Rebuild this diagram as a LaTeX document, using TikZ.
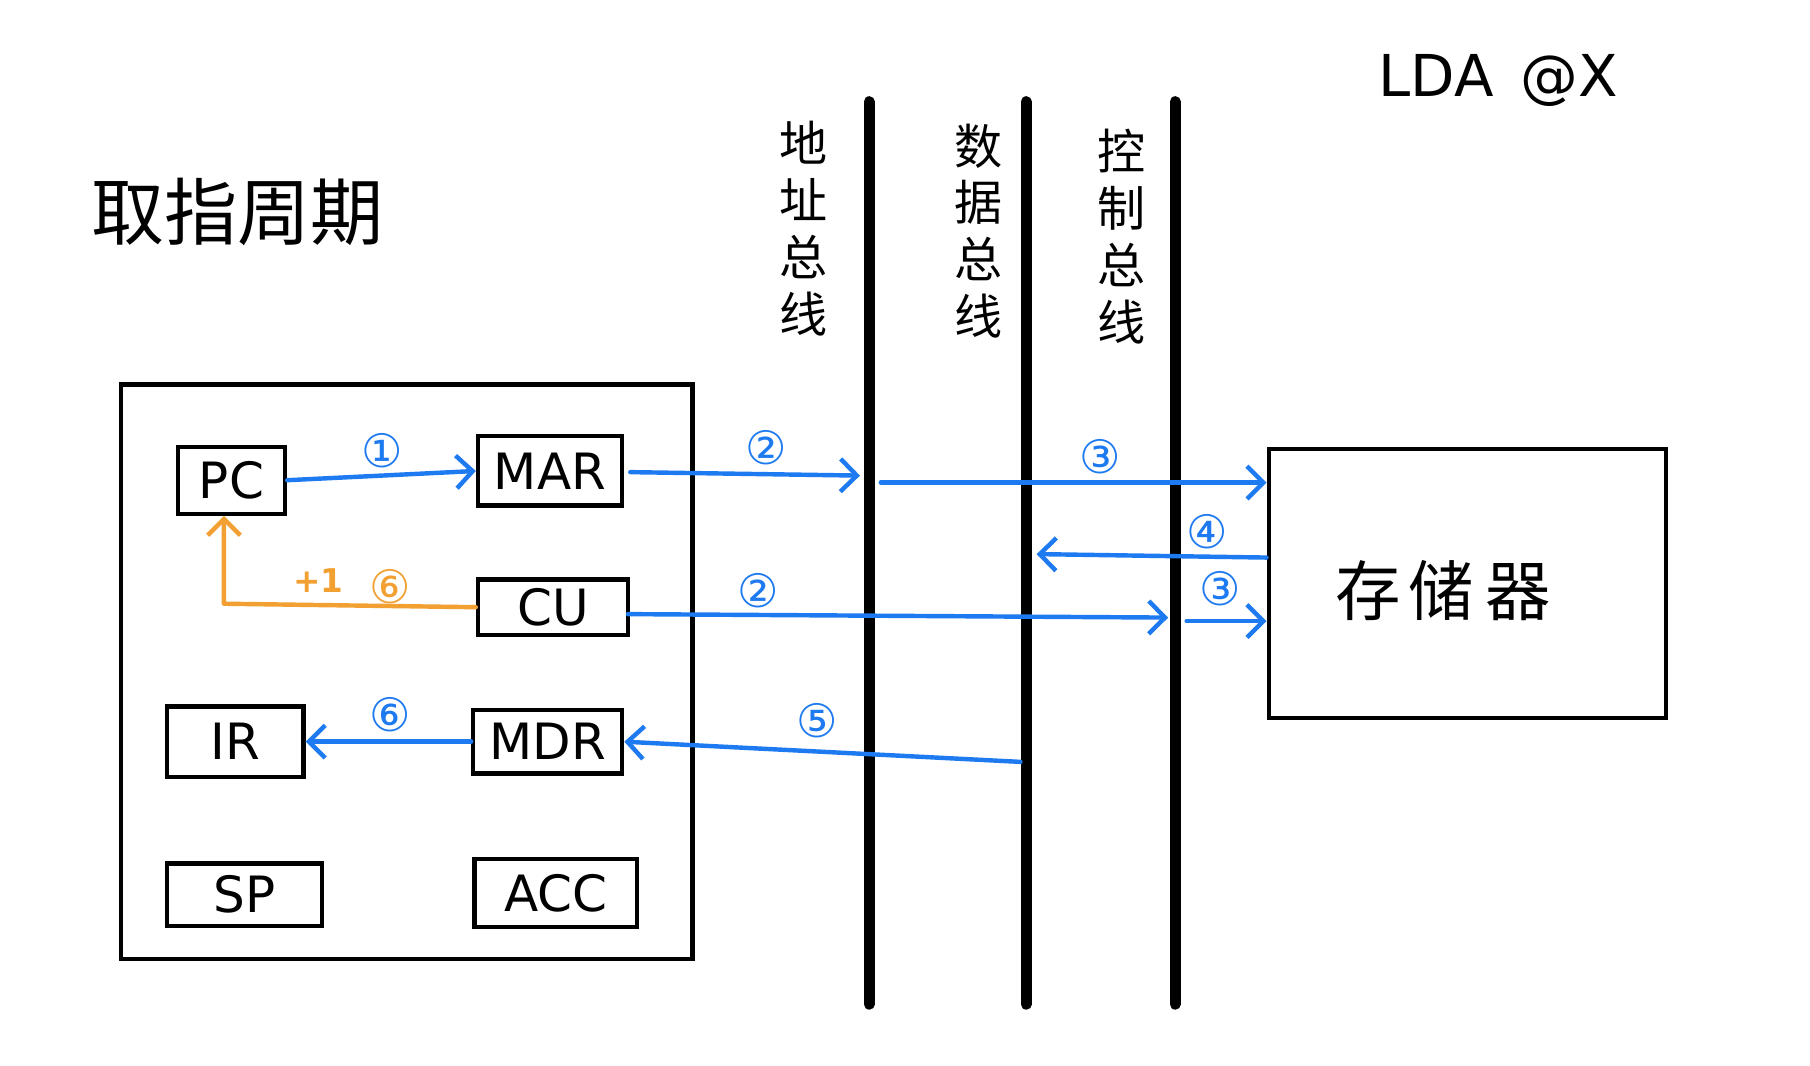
\documentclass[tikz,border=0pt]{standalone}
\usepackage{fontspec}
\setmainfont{DejaVu Sans}
\newfontfamily\cjk{Noto Sans CJK SC}
\usetikzlibrary{arrows.meta}
\definecolor{penblue}{RGB}{30,122,240}
\definecolor{penorange}{RGB}{242,160,50}
\tikzset{
  reg/.style={draw=black, line width=2.2pt, inner sep=0pt, font=\fontsize{26}{28}\selectfont},
  bus/.style={line width=5.6pt, line cap=round, black},
  arr/.style={penblue, line width=2.3pt, line cap=round, -{Straight Barb[length=8.5pt,width=17pt,line width=2.3pt]}},
  arrO/.style={penorange, line width=2.3pt, line cap=round, line join=round, -{Straight Barb[length=8.5pt,width=17pt,line width=2.3pt]}},
  num/.style={penblue, font=\fontsize{24}{24}\selectfont, inner sep=0pt},
  numO/.style={penorange, font=\fontsize{24}{24}\selectfont, inner sep=0pt},
  buslabel/.style={font=\cjk\fontsize{25}{29.5}\selectfont, align=center, inner sep=0pt},
}
\begin{document}
\begin{tikzpicture}[x=0.6pt, y=-0.6pt]
\useasboundingbox (0,0) rectangle (1568,923);
\fill[white] (0,0) rectangle (1568,923);

% titles
\node[font=\cjk\fontsize{38}{40}\selectfont, inner sep=0pt] (title) at (206,184) {取指周期};
\node[font=\fontsize{30}{32}\selectfont, inner sep=0pt] (lda) at (1298,70) {LDA\hspace{14pt}@X};

% buses
\coordinate (abT) at (753,88);  \coordinate (abB) at (753,870);
\coordinate (dbT) at (889,88);  \coordinate (dbB) at (889,870);
\coordinate (cbT) at (1018,88); \coordinate (cbB) at (1018,870);
\draw[bus] (abT) -- (abB);
\draw[bus] (dbT) -- (dbB);
\draw[bus] (cbT) -- (cbB);

\node[buslabel] (abl) at (696,198) {地\\址\\总\\线};
\node[buslabel] (dbl) at (848,200) {数\\据\\总\\线};
\node[buslabel] (cbl) at (972,205) {控\\制\\总\\线};

% CPU
\node[draw, line width=2.2pt, minimum width=495*0.6pt, minimum height=498*0.6pt, inner sep=0pt] (cpu) at (352.5,582) {};
\node[reg, minimum width=93*0.6pt, minimum height=58*0.6pt] (pc) at (200.5,416) {PC};
\node[reg, minimum width=125*0.6pt, minimum height=60*0.6pt] (mar) at (476.5,408) {MAR};
\node[reg, minimum width=130*0.6pt, minimum height=48*0.6pt] (cu) at (479,526) {CU};
\node[reg, minimum width=118*0.6pt, minimum height=61*0.6pt] (ir) at (204,642.5) {IR};
\node[reg, minimum width=129*0.6pt, minimum height=55*0.6pt] (mdr) at (474.5,642.5) {MDR};
\node[reg, minimum width=134*0.6pt, minimum height=54*0.6pt] (sp) at (212,775) {SP};
\node[reg, minimum width=141*0.6pt, minimum height=59*0.6pt] (acc) at (481.5,773.5) {ACC};

% memory
\node[draw, line width=2.2pt, minimum width=344*0.6pt, minimum height=233*0.6pt, inner sep=0pt] (mem) at (1271,505.5) {};
\node[font=\cjk\fontsize{34}{36}\selectfont, inner sep=0pt] (meml) at (1250,512) {存\hspace{4pt}储\hspace{6pt}器};

% connector endpoints
\coordinate (a1) at (745,412);
\coordinate (a2) at (763,418);
\coordinate (d1) at (898,480);
\coordinate (c1) at (1012,535);
\coordinate (c2) at (1028,538);
\coordinate (d2) at (884,660);
\coordinate (o1) at (194,523);
\coordinate (mr) at (546,409);
\coordinate (cur) at (544,532);

% blue arrows
\draw[arr] (pc.east) -- (mar.west);
\draw[arr] (mr) -- (a1);
\draw[arr] (a2) -- (a2 -| mem.west);
\draw[arr] (mem.west |- 0,483) -- (d1);
\draw[arr] (cur) -- (c1);
\draw[arr] (c2) -- (c2 -| mem.west);
\draw[arr] (d2) -- (mdr.east);
\draw[arr] (mdr.west) -- (ir.east);

% orange arrow
\draw[arrO] (cu.west) -- (o1) -- (o1 |- pc.south);

% labels
\node[num] (n1) at (331,390) {①};
\node[num] (n2a) at (664,388) {②};
\node[num] (n3a) at (953,396) {③};
\node[num] (n4) at (1046,461) {④};
\node[num] (n2b) at (657,512) {②};
\node[num] (n3b) at (1057,510) {③};
\node[num] (n5) at (708,624) {⑤};
\node[num] (n6a) at (338,619) {⑥};
\node[numO] (n6b) at (338,508) {⑥};
\node[penorange, font=\bfseries\fontsize{17}{17}\selectfont, inner sep=0pt] (plus) at (276,503) {+1};
\end{tikzpicture}
\end{document}
